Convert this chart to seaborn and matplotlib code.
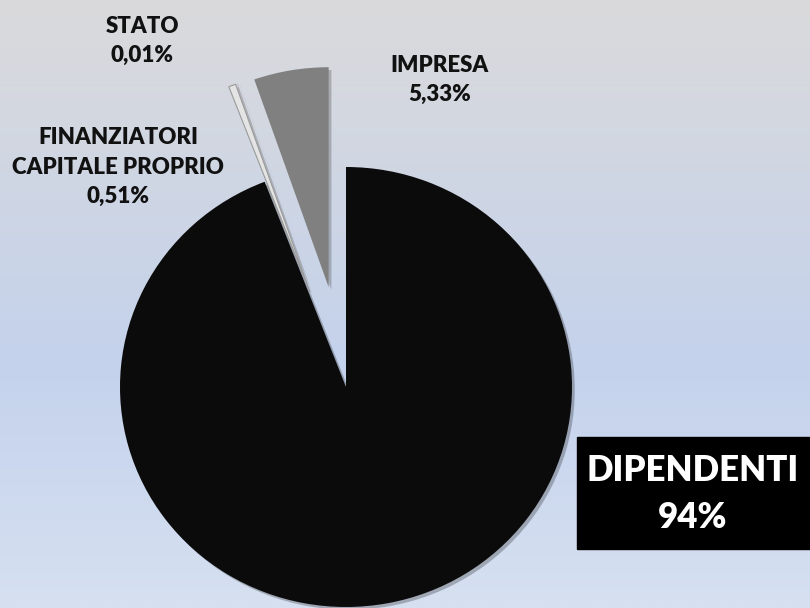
import numpy as np
import seaborn as sns
import matplotlib.pyplot as plt
from matplotlib import patheffects as pe
from matplotlib.colors import LinearSegmentedColormap
from matplotlib.patches import Rectangle

# data
categories = ['DIPENDENTI', 'FINANZIATORI\nCAPITALE PROPRIO', 'STATO', 'IMPRESA']
shares = [94, 0.51, 0.01, 5.33]
share_labels = ['94%', '0,51%', '0,01%', '5,33%']
slice_colors = ['#0b0b0b', '#e4e4e4', '#4a4a4a', '#808080']

sns.set_theme(style='white')
plt.rcParams['font.family'] = ['Lato', 'DejaVu Sans']

fig = plt.figure(figsize=(8.1, 6.08), dpi=100)

# background gradient (grey at top, pale blue lower down)
bg = fig.add_axes([0, 0, 1, 1])
cmap = LinearSegmentedColormap.from_list(
    'bg', [(0.0, '#dadadb'), (0.6, '#c4d2ec'), (1.0, '#d6e0f1')])
bg.imshow(np.linspace(0, 1, 256).reshape(-1, 1), cmap=cmap, aspect='auto',
          extent=[0, 1, 0, 1])
bg.set_axis_off()

ax = fig.add_axes([0, 0, 1, 1])
ax.patch.set_alpha(0)
wedges, _ = ax.pie(shares, colors=slice_colors, startangle=90, counterclock=False,
                   explode=[0, 0.46, 0.46, 0.46],
                   wedgeprops=dict(linewidth=0))
wedges[1].set_edgecolor('#9a9a9a')
wedges[1].set_linewidth(0.8)
for w in wedges:
    w.set_path_effects([pe.SimplePatchShadow(offset=(2, -2), alpha=0.25),
                        pe.Normal()])

# slightly wider than tall, like the original
ax.set_aspect('auto')
ax.set_xlim(-346 / 226, 464 / 226)
ax.set_ylim(-221 / 220, 387 / 220)
ax.set_axis_off()

# labels
def fy(py):
    return 1 - py / 608

lab = dict(ha='center', va='center', fontsize=16, fontweight='heavy',
           linespacing=1.5, color='#111111')
fig.text(142 / 810, fy(41), f'{categories[2]}\n{share_labels[2]}', **lab)
fig.text(118 / 810, fy(167), f'{categories[1]}\n{share_labels[1]}', **lab)
fig.text(440 / 810, fy(80), f'{categories[3]}\n{share_labels[3]}', **lab)

fig.patches.append(Rectangle((577 / 810, fy(549)), 233 / 810, 112 / 608,
                             transform=fig.transFigure, color='black', zorder=5))
fig.text(693 / 810, fy(494), f'{categories[0]}\n{share_labels[0]}', ha='center',
         va='center', fontsize=25, fontweight='heavy', color='white',
         linespacing=1.5, zorder=6)

fig.savefig('out.png', dpi=100)
